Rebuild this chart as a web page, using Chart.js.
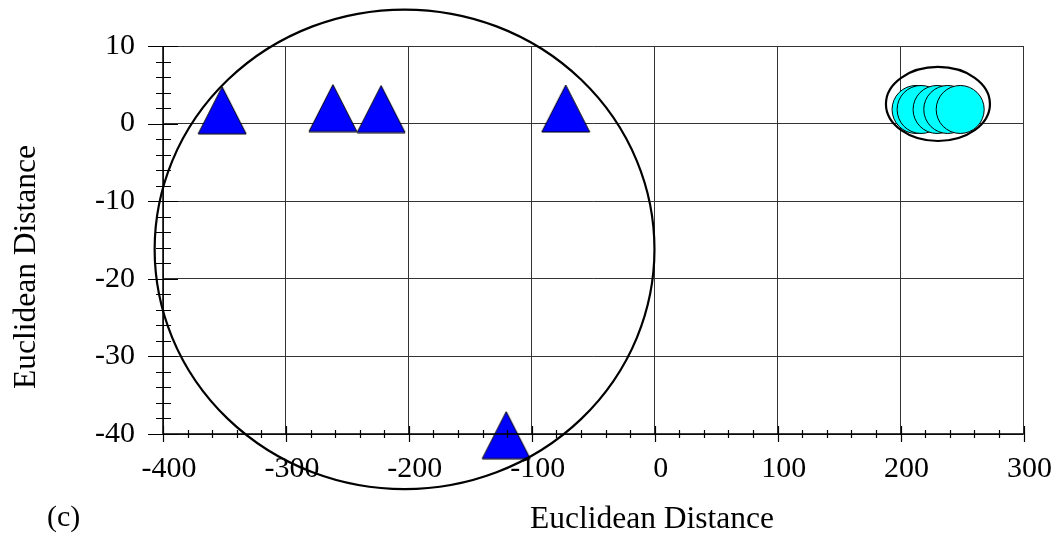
<!DOCTYPE html>
<html>
<head>
<meta charset="utf-8">
<script src="https://cdn.jsdelivr.net/npm/chart.js@4/dist/chart.umd.min.js"></script>
<style>
  html, body { margin: 0; padding: 0; background: #fff; }
  #wrap { width: 1063px; height: 537px; }
</style>
</head>
<body>
<div id="wrap"><canvas id="c" width="1063" height="537"></canvas></div>
<script>
// Group A (triangles) and group B (circles) coordinates
const groupA_x = [-351.9, -261.8, -222.6, -72.4, -120.8];
const groupA_y = [1.71, 2.0, 1.88, 1.94, -40.15];
const groupB_x = [212.6, 216.7, 229.7, 238.4, 248.5];
const groupB_y = [1.82, 1.82, 1.82, 1.82, 1.82];

// Axis tick values
const xTicks = [-400, -300, -200, -100, 0, 100, 200, 300];
const yTicks = [10, 0, -10, -20, -30, -40];

// Cluster outlines: centre and half-axes in data units
const clusterCx = [-203.5, 230.4];
const clusterCy = [-16.2, 2.53];
const clusterRx = [203.3, 42.3];
const clusterRy = [30.9, 4.77];

const axisTitle = 'Euclidean Distance';
const panelLabel = '(c)';

const FONT = '"Liberation Serif", "Times New Roman", serif';

// Triangle marker sprite
function triangleSprite(w, h, fill) {
  const c = document.createElement('canvas');
  c.width = w + 2; c.height = h + 2;
  const g = c.getContext('2d');
  g.beginPath();
  g.moveTo(1 + w / 2, 1);
  g.lineTo(1 + w, 1 + h);
  g.lineTo(1, 1 + h);
  g.closePath();
  g.fillStyle = fill;
  g.fill();
  g.lineWidth = 1;
  g.strokeStyle = '#000';
  g.stroke();
  return c;
}
const triMarker = triangleSprite(48, 47, '#0000FF');

const frame = {
  id: 'frame',
  afterDatasetsDraw(chart) {
    const { ctx, chartArea: a, scales: { x, y } } = chart;
    ctx.save();
    // axis lines
    ctx.strokeStyle = '#000';
    ctx.lineWidth = 1.5;
    ctx.beginPath();
    ctx.moveTo(a.left, a.top);
    ctx.lineTo(a.left, a.bottom);
    ctx.lineTo(a.right, a.bottom);
    ctx.stroke();
    // y ticks: majors every 10, minors every 2
    ctx.lineWidth = 1.2;
    ctx.beginPath();
    for (let v = -40; v <= 10; v += 2) {
      const py = Math.round(y.getPixelForValue(v)) + 0.5;
      if (v % 10 === 0) { ctx.moveTo(a.left - 15, py); ctx.lineTo(a.left + 15, py); }
      else { ctx.moveTo(a.left - 7, py); ctx.lineTo(a.left + 8, py); }
    }
    // x ticks: majors every 100, minors every 20
    for (let v = -400; v <= 300; v += 20) {
      const px = Math.round(x.getPixelForValue(v)) + 0.5;
      if (v % 100 === 0) { ctx.moveTo(px, a.bottom - 8); ctx.lineTo(px, a.bottom + 8); }
      else { ctx.moveTo(px, a.bottom - 4); ctx.lineTo(px, a.bottom + 4); }
    }
    ctx.stroke();
    // cluster outlines
    ctx.lineWidth = 2.2;
    clusterCx.forEach((cx, i) => {
      const px = x.getPixelForValue(cx), py = y.getPixelForValue(clusterCy[i]);
      const rx = Math.abs(x.getPixelForValue(cx + clusterRx[i]) - px);
      const ry = Math.abs(y.getPixelForValue(clusterCy[i] + clusterRy[i]) - py);
      ctx.beginPath();
      ctx.ellipse(px, py, rx, ry, 0, 0, Math.PI * 2);
      ctx.stroke();
    });
    ctx.restore();
  },
  afterDraw(chart) {
    const { ctx } = chart;
    ctx.save();
    ctx.fillStyle = '#000';
    ctx.font = '31.5px ' + FONT;
    ctx.textBaseline = 'alphabetic';
    ctx.textAlign = 'center';
    ctx.fillText(axisTitle, 652, 528);
    ctx.save();
    ctx.translate(35, 267);
    ctx.rotate(-Math.PI / 2);
    ctx.fillText(axisTitle, 0, 0);
    ctx.restore();
    ctx.font = '30px ' + FONT;
    ctx.textAlign = 'left';
    ctx.fillText(panelLabel, 47, 526);
    ctx.restore();
  }
};

new Chart(document.getElementById('c'), {
  type: 'scatter',
  data: {
    datasets: [
      {
        data: groupA_x.map((v, i) => ({ x: v, y: groupA_y[i] })),
        pointStyle: triMarker,
        pointRadius: 24,
        clip: false
      },
      {
        data: groupB_x.map((v, i) => ({ x: v, y: groupB_y[i] })),
        pointStyle: 'circle',
        pointRadius: 24,
        backgroundColor: '#00FFFF',
        borderColor: '#000',
        borderWidth: 1,
        clip: false
      }
    ]
  },
  options: {
    responsive: false,
    animation: false,
    events: [],
    layout: { autoPadding: false, padding: { top: 46, right: 39, left: 0, bottom: 0 } },
    plugins: { legend: { display: false }, tooltip: { enabled: false } },
    scales: {
      x: {
        type: 'linear', min: -400, max: 300,
        afterBuildTicks: s => { s.ticks = xTicks.map(v => ({ value: v })); },
        afterFit: s => { s.height = 537 - 46 - 388; },
        border: { display: false },
        grid: { color: '#333', lineWidth: 1, drawTicks: false },
        ticks: { color: '#000', padding: 17, labelOffset: 6, maxRotation: 0, font: { family: FONT, size: 30 } }
      },
      y: {
        type: 'linear', min: -40, max: 10,
        afterBuildTicks: s => { s.ticks = yTicks.map(v => ({ value: v })); },
        afterFit: s => { s.width = 163; },
        border: { display: false },
        grid: { color: '#333', lineWidth: 1, drawTicks: false },
        ticks: { color: '#000', padding: 28, font: { family: FONT, size: 30 } }
      }
    }
  },
  plugins: [frame]
});
</script>
</body>
</html>
